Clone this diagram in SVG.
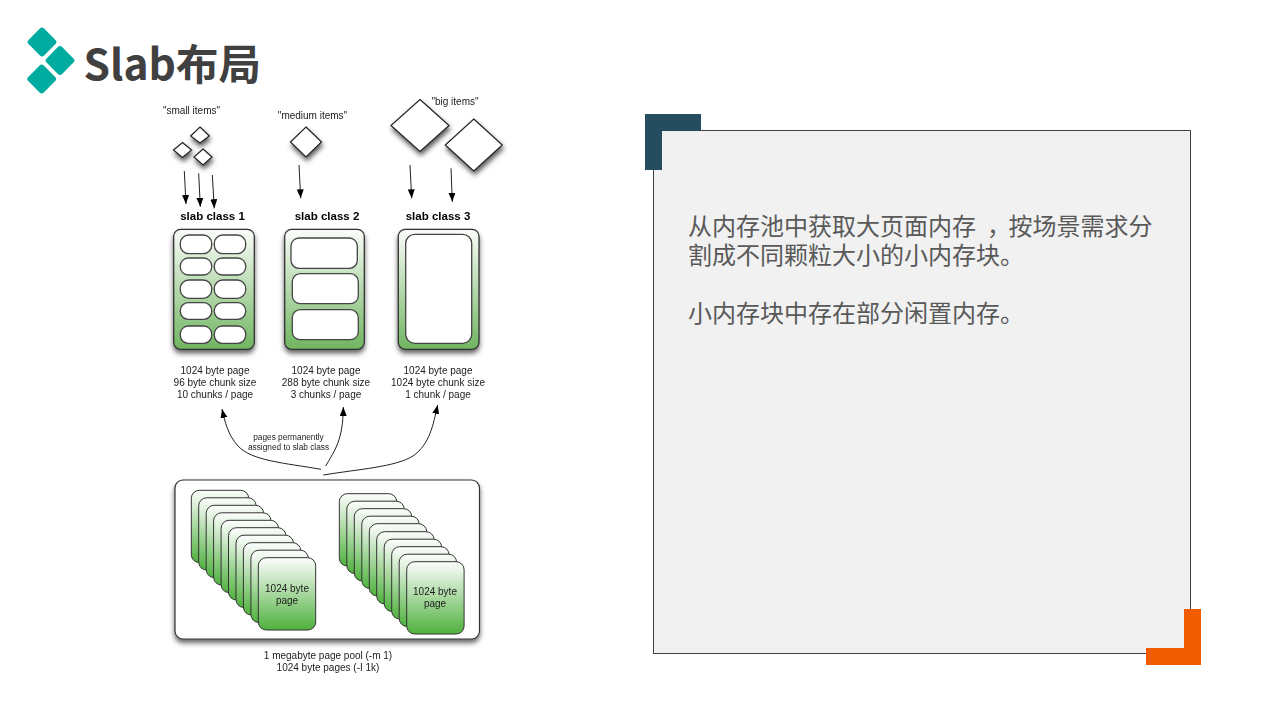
<svg xmlns="http://www.w3.org/2000/svg" width="1281" height="720" viewBox="0 0 1281 720">
<style>
.s{font-family:"Liberation Sans",Arial,sans-serif;fill:#1c1c1c;font-size:10px;text-anchor:middle}
.h{font-weight:bold;font-size:11.5px;fill:#000}
.t{font-size:8.3px}
.body{font-family:"Noto Sans CJK SC",sans-serif;font-size:24px;fill:#595959}
.box{stroke:#333;stroke-width:1.3;fill:url(#g1);filter:url(#sh)}
.chunk{fill:#fff;stroke:#444;stroke-width:1.3}
.dia{fill:#fff;stroke:#222;stroke-width:1.2;filter:url(#sh2)}
.page{fill:url(#g2);stroke:#333;stroke-width:1}
.ar{fill:none;stroke:#222;stroke-width:1;marker-end:url(#ah)}
.logo{fill:#00aba0}
</style>
<defs>
<linearGradient id="g1" x1="0" y1="0" x2="0" y2="1"><stop offset="0" stop-color="#fbfdfa"/><stop offset="1" stop-color="#70b560"/></linearGradient>
<linearGradient id="g2" x1="0" y1="0" x2="0" y2="1"><stop offset="0" stop-color="#fdfefd"/><stop offset="1" stop-color="#50b13e"/></linearGradient>
<filter id="sh" x="-15%" y="-10%" width="130%" height="125%"><feDropShadow dx="0" dy="3.500" stdDeviation="2.800" flood-color="#000" flood-opacity=".6"/></filter>
<filter id="sh2" x="-50%" y="-50%" width="200%" height="220%"><feDropShadow dx="1" dy="3.500" stdDeviation="2.800" flood-color="#000" flood-opacity=".65"/></filter>
<filter id="soft" filterUnits="userSpaceOnUse" x="140" y="85" width="380" height="600"><feGaussianBlur stdDeviation="0.450"/></filter>
<marker id="ah" markerUnits="userSpaceOnUse" markerWidth="10" markerHeight="8" refX="9" refY="3.500" orient="auto"><path d="M0 0L9 3.500L0 7Z" fill="#000"/></marker>
<rect id="pg" width="57.4" height="72.3" rx="8" class="page"/>
</defs>
<rect width="1281" height="720" fill="#fff"/>
<g id="logo">
<rect class="logo" x="31" y="31" width="22" height="22" rx="3" transform="rotate(45 42 42)"/>
<rect class="logo" x="49" y="49.5" width="22" height="22" rx="3" transform="rotate(45 60 60.5)"/>
<rect class="logo" x="30.7" y="68" width="22" height="22" rx="3" transform="rotate(45 41.7 79)"/>
</g>
<text id="title" x="83.500" y="80" font-family="'Noto Sans CJK SC','Noto Sans',sans-serif" font-weight="bold" font-size="42.500" fill="#404040">Slab布局</text>

<g id="diagram" filter="url(#soft)">
<g id="connectors">
<path class="ar" d="M184.3 171L186 204"/>
<path class="ar" d="M198.7 173.3L200.3 206.7"/>
<path class="ar" d="M212.3 175L214.3 208.3"/>
<path class="ar" d="M299 165L300.7 198.3"/>
<path class="ar" d="M410 165L411.7 198.3"/>
<path class="ar" d="M451 168.3L452.3 201.7"/>
<path class="ar" d="M321 469.3C285 463 252 461 238 446C228 435 225 422 222 409"/>
<path class="ar" d="M325.7 466C335 450 343 440 343.3 407"/>
<path class="ar" d="M323.3 475C360 469 395 467 413 456C430 444 433 425 437.700 405"/>
</g>

<g id="items-small">
<text class="s" x="191.5" y="114">"small items"</text>
<path class="dia" d="M200 127L209.3 136L200 143L190.7 136Z"/>
<path class="dia" d="M182.5 142.5L191.5 150L182.5 157.5L173.5 150Z"/>
<path class="dia" d="M203 149L212 157L203 165L194 157Z"/>
</g>
<g id="items-medium">
<text class="s" x="312.5" y="118.500">"medium items"</text>
<path class="dia" d="M306 127L321.500 142L306 157L290.500 142Z"/>
</g>
<g id="items-big">
<text class="s" x="455" y="105">"big items"</text>
<path class="dia" d="M420 99.500L449 125.500L420 151.500L391 125.500Z"/>
<path class="dia" d="M473.800 119L502.300 145L473.800 171L445.300 145Z"/>
</g>

<g id="slab-class-1">
<text class="s h" x="212.500" y="220">slab class 1</text>
<rect class="box" x="173.700" y="229.300" width="80.600" height="120" rx="7"/>
<rect class="chunk" x="180.300" y="235" width="31.400" height="18.700" rx="8.500"/>
<rect class="chunk" x="214.300" y="235" width="31.400" height="18.700" rx="8.500"/>
<rect class="chunk" x="180.300" y="258" width="31.400" height="17" rx="8"/>
<rect class="chunk" x="214.300" y="258" width="31.400" height="17" rx="8"/>
<rect class="chunk" x="180.300" y="280" width="31.400" height="18.300" rx="8.500"/>
<rect class="chunk" x="214.300" y="280" width="31.400" height="18.300" rx="8.500"/>
<rect class="chunk" x="180.300" y="302.700" width="31.400" height="16.600" rx="8"/>
<rect class="chunk" x="214.300" y="302.700" width="31.400" height="16.600" rx="8"/>
<rect class="chunk" x="180.300" y="326" width="31.400" height="17.300" rx="8"/>
<rect class="chunk" x="214.300" y="326" width="31.400" height="17.300" rx="8"/>
<text class="s" x="215" y="374">1024 byte page</text>
<text class="s" x="215" y="386">96 byte chunk size</text>
<text class="s" x="215" y="397.500">10 chunks / page</text>
</g>
<g id="slab-class-2">
<text class="s h" x="327" y="220">slab class 2</text>
<rect class="box" x="284.700" y="229.300" width="79.600" height="120" rx="7"/>
<rect class="chunk" x="291" y="238" width="66.300" height="30.300" rx="8"/>
<rect class="chunk" x="292.300" y="273.700" width="66" height="30" rx="8"/>
<rect class="chunk" x="292.300" y="309.700" width="66" height="30" rx="8"/>
<text class="s" x="326" y="374">1024 byte page</text>
<text class="s" x="326" y="386">288 byte chunk size</text>
<text class="s" x="326" y="397.500">3 chunks / page</text>
</g>
<g id="slab-class-3">
<text class="s h" x="438" y="220">slab class 3</text>
<rect class="box" x="398.300" y="229.300" width="80.700" height="120" rx="7"/>
<rect class="chunk" x="405.700" y="234.300" width="66" height="109" rx="9"/>
<text class="s" x="438" y="374">1024 byte page</text>
<text class="s" x="438" y="386">1024 byte chunk size</text>
<text class="s" x="438" y="397.500">1 chunk / page</text>
</g>

<g id="assign-label">
<text class="s t" x="288.500" y="439.500">pages permanently</text>
<text class="s t" x="288.500" y="449.500">assigned to slab class</text>
</g>

<g id="page-pool">
<rect x="175" y="480" width="304.500" height="159" rx="8" fill="#fff" stroke="#333" stroke-width="1.2" filter="url(#sh)"/>
<use href="#pg" x="191.300" y="490.300"/>
<use href="#pg" x="198.700" y="497.800"/>
<use href="#pg" x="206.200" y="505.300"/>
<use href="#pg" x="213.600" y="512.800"/>
<use href="#pg" x="221.100" y="520.300"/>
<use href="#pg" x="228.500" y="527.700"/>
<use href="#pg" x="236" y="535.200"/>
<use href="#pg" x="243.400" y="542.700"/>
<use href="#pg" x="250.900" y="550.200"/>
<use href="#pg" x="258.300" y="557.700"/>
<text class="s" x="287" y="592">1024 byte</text>
<text class="s" x="287" y="604">page</text>
<use href="#pg" x="339.300" y="493.700"/>
<use href="#pg" x="346.800" y="501.200"/>
<use href="#pg" x="354.300" y="508.700"/>
<use href="#pg" x="361.800" y="516.200"/>
<use href="#pg" x="369.300" y="523.700"/>
<use href="#pg" x="376.700" y="531.700"/>
<use href="#pg" x="384.200" y="539.200"/>
<use href="#pg" x="391.700" y="546.700"/>
<use href="#pg" x="399.200" y="554.200"/>
<use href="#pg" x="406.700" y="561.700"/>
<text class="s" x="435" y="595">1024 byte</text>
<text class="s" x="435" y="607">page</text>
</g>
<g id="pool-label">
<text class="s" x="328" y="658.500">1 megabyte page pool (-m 1)</text>
<text class="s" x="328" y="670.500">1024 byte pages (-I 1k)</text>
</g>
</g>

<g id="panel">
<rect x="653.500" y="130.500" width="537" height="523" fill="#f1f1f1" stroke="#404040" stroke-width="1"/>
<path d="M645 114H701V131H662V170H645Z" fill="#264c5f"/>
<path d="M1146 665H1201V609H1184V648H1146Z" fill="#f25c00"/>
<text class="body" x="688" y="235">从内存池中获取大页面内存<tspan x="987">，</tspan><tspan x="1008.500">按场景需求分</tspan></text>
<text class="body" x="688" y="264">割成不同颗粒大小的小内存块。</text>
<text class="body" x="688" y="322">小内存块中存在部分闲置内存。</text>
</g>
</svg>
